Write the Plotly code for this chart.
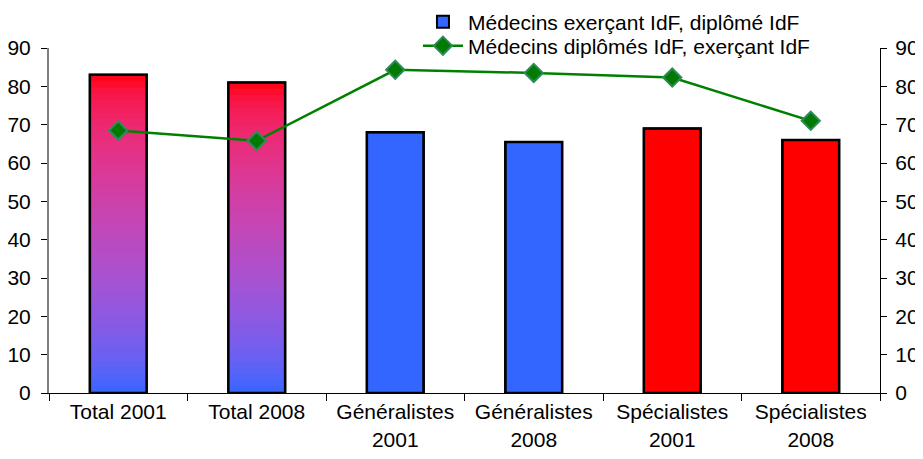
import plotly.graph_objects as go

categories = ["Total 2001", "Total 2008", "Généralistes<br>2001", "Généralistes<br>2008",
              "Spécialistes<br>2001", "Spécialistes<br>2008"]
bar_values = [83, 81, 68, 65.5, 69, 66]
line_values = [68.5, 65.8, 84.3, 83.5, 82.3, 71]
bar_name = "Médecins exerçant IdF, diplômé IdF"
line_name = "Médecins diplômés IdF, exerçant IdF"
y_ticks = [0, 10, 20, 30, 40, 50, 60, 70, 80, 90]

RED = (255, 0, 0)
BLUE = (51, 102, 255)
gradient_idx = [0, 1]  # bars drawn with red->blue gradient
solid_colors = ["#3366FF", "#3366FF", "#3366FF", "#3366FF", "#FF0000", "#FF0000"]

def to_lin(c):
    c = c / 255
    return c / 12.92 if c <= 0.04045 else ((c + 0.055) / 1.055) ** 2.4

def to_srgb(c):
    c = 12.92 * c if c <= 0.0031308 else 1.055 * c ** (1 / 2.4) - 0.055
    return int(round(max(0, min(1, c)) * 255))

def mix(t):  # t=0 bottom (blue), t=1 top (red)
    return "rgb(%d,%d,%d)" % tuple(
        to_srgb(to_lin(b) * (1 - t) + to_lin(r) * t) for r, b in zip(RED, BLUE))

W = 0.41
fig = go.Figure()

# main bars (legend entry)
fig.add_trace(go.Bar(x=categories, y=bar_values, name=bar_name, width=W,
                     marker=dict(color=solid_colors, line=dict(color="black", width=2)),
                     showlegend=True, legend="legend"))

# gradient slices (each slice overlaps the next one to avoid seams)
N = 50
gx = [categories[i] for i in gradient_idx]
gv = [bar_values[i] for i in gradient_idx]
for k in range(N):
    top = min(k + 2, N)
    fig.add_trace(go.Bar(x=gx, y=[v * (top - k) / N for v in gv], base=[v * k / N for v in gv],
                         width=W, marker=dict(color=mix((k + 0.5) / N), line=dict(width=0)),
                         showlegend=False, hoverinfo="skip"))

# outlines on top
fig.add_trace(go.Bar(x=categories, y=bar_values, width=W, showlegend=False, hoverinfo="skip",
                     marker=dict(color="rgba(0,0,0,0)", line=dict(color="black", width=2.5))))

fig.add_trace(go.Scatter(x=categories, y=line_values, name=line_name, yaxis="y2",
                         mode="lines+markers", legend="legend2",
                         line=dict(color="#008000", width=2.5),
                         marker=dict(symbol="diamond", size=14, color="#007A00",
                                     line=dict(color="#2E8B57", width=2))))

font = dict(family="Liberation Sans, Arial, sans-serif", size=21, color="black")
leg_common = dict(x=0.444, xanchor="left", yanchor="middle", bgcolor="rgba(0,0,0,0)",
                  font=font, itemwidth=40)
fig.update_layout(
    width=915, height=451,
    margin=dict(l=41, r=43, t=40, b=66, autoexpand=False),
    paper_bgcolor="white", plot_bgcolor="white",
    barmode="overlay",
    font=font,
    showlegend=True,
    legend=dict(y=1.0754, **leg_common),
    legend2=dict(y=1.0058, **leg_common),
    xaxis=dict(showline=True, linecolor="black", linewidth=1.2, ticks="outside",
               tickson="boundaries", ticklen=7, tickcolor="black", showgrid=False,
               tickfont=font, automargin=False),
    yaxis=dict(range=[0, 90], tickvals=y_ticks, showline=True, linecolor="#808080",
               linewidth=2, ticks="outside", ticklen=6, tickcolor="black", showgrid=False,
               zeroline=False, tickfont=font, ticklabelstandoff=6, automargin=False),
    yaxis2=dict(range=[0, 90], tickvals=y_ticks, overlaying="y", side="right",
                showline=True, linecolor="black", linewidth=1.2, ticks="outside",
                ticklen=6, tickcolor="black", showgrid=False, zeroline=False,
                tickfont=font, ticklabelstandoff=4, automargin=False),
)

fig.write_html("out.html")
